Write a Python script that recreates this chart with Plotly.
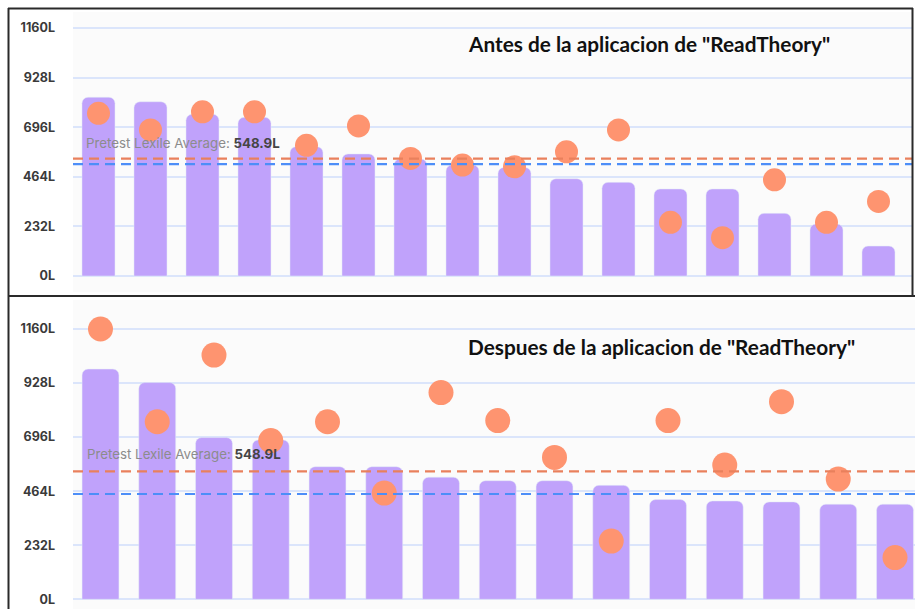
import plotly.graph_objects as go

# ---------------- data ----------------
tick_vals = [0, 232, 464, 696, 928, 1160]
tick_text = ["0L", "232L", "464L", "696L", "928L", "1160L"]

before_bars = [836, 815, 756, 742, 605, 571, 547, 519, 508, 455, 438, 407, 407, 293, 243, 140]
before_dots = [761, 683, 768, 768, 611, 702, 550, 519, 511, 581, 683, 251, 179, 450, 251, 349]
before_avg_orange = 548.9
before_avg_blue = 523

after_bars = [988, 930, 694, 684, 569, 569, 524, 509, 509, 489, 428, 422, 418, 408, 408]
after_dots = [1160, 762, 1048, 681, 762, 456, 887, 767, 609, 250, 767, 576, 848, 516, 179]
after_avg_orange = 548.9
after_avg_blue = 452

title_before = 'Antes de la aplicacion de "ReadTheory"'
title_after = 'Despues de la aplicacion de "ReadTheory"'
avg_label = "<span style='color:#8c8c8c'>Pretest Lexile Average:</span> <b><span style='color:#454545'>548.9L</span></b>"

# ---------------- layout geometry ----------------
W, H = 915, 609
BAR_COLOR = "#c0a2fb"
DOT_COLOR = "#fe9470"
ORANGE = "#e9805c"
BLUE = "#4d8ef8"
GRID = "#dbe5fb"

fig = go.Figure()

# top panel
fig.add_trace(go.Bar(x=list(range(len(before_bars))), y=before_bars, marker=dict(color=BAR_COLOR, cornerradius=6),
                     width=0.635, xaxis="x", yaxis="y", hoverinfo="y"))
fig.add_trace(go.Scatter(x=list(range(len(before_dots))), y=before_dots, mode="markers",
                         marker=dict(color=DOT_COLOR, size=23), xaxis="x", yaxis="y"))
# bottom panel
fig.add_trace(go.Bar(x=list(range(len(after_bars))), y=after_bars, marker=dict(color=BAR_COLOR, cornerradius=6),
                     width=0.65, xaxis="x2", yaxis="y2", hoverinfo="y"))
fig.add_trace(go.Scatter(x=list(range(len(after_dots))), y=after_dots, mode="markers",
                         marker=dict(color=DOT_COLOR, size=25), xaxis="x2", yaxis="y2"))

# pixel -> axis mapping helpers
def yrange(px_zero, px_per_unit, top_px, bot_px):
    return [(px_zero - bot_px) / px_per_unit, (px_zero - top_px) / px_per_unit]

top_px, bot_px = 12, 292
y1 = yrange(276, 49.6 / 232, top_px, bot_px)
top2_px, bot2_px = 300, 609
y2 = yrange(599.3, 54.06 / 232, top2_px, bot2_px)

x1 = [(73 - 98.5) / 52, (912 - 98.5) / 52]
x2 = [(73 - 100.5) / 56.75, (915 - 100.5) / 56.75]

yaxis_common = dict(tickvals=tick_vals, ticktext=tick_text, showgrid=True, gridcolor=GRID, gridwidth=1.5,
                    zeroline=False, showline=False, ticks="", ticklabelstandoff=17,
                    tickfont=dict(family="Inter", size=12.5, color="#3a3a3a", weight="bold"))
xaxis_common = dict(showgrid=False, zeroline=False, showticklabels=False, ticks="", showline=False)

fig.update_layout(
    width=W, height=H, margin=dict(l=0, r=0, t=0, b=0),
    paper_bgcolor="white", plot_bgcolor="#fbfbfb", showlegend=False,
    xaxis=dict(domain=[73 / W, 912 / W], range=x1, anchor="y", **xaxis_common),
    yaxis=dict(domain=[(H - bot_px) / H, (H - top_px) / H], range=y1, anchor="x", **yaxis_common),
    xaxis2=dict(domain=[73 / W, 1.0], range=x2, anchor="y2", **xaxis_common),
    yaxis2=dict(domain=[0, (H - top2_px) / H], range=y2, anchor="x2", **yaxis_common),
)

# average lines
for xa, ya, val, col in [("x", "y", before_avg_orange, ORANGE), ("x", "y", before_avg_blue, BLUE),
                         ("x2", "y2", after_avg_orange, ORANGE), ("x2", "y2", after_avg_blue, BLUE)]:
    fig.add_shape(type="line", xref=f"{xa} domain", yref=ya, x0=0, x1=1, y0=val, y1=val,
                  line=dict(color=col, width=2.2, dash="10px,6px"), layer="above")

# labels
fig.add_annotation(text=avg_label, xref="x domain", yref="y", x=11 / 839, y=before_avg_orange + 75,
                   xanchor="left", yanchor="middle", showarrow=False,
                   font=dict(family="Inter", size=13.3, color="#8c8c8c"))
fig.add_annotation(text=avg_label, xref="x2 domain", yref="y2", x=12 / 842, y=after_avg_orange + 74,
                   xanchor="left", yanchor="middle", showarrow=False,
                   font=dict(family="Inter", size=13.3, color="#8c8c8c"))
fig.add_annotation(text=f"<b>{title_before}</b>", xref="paper", yref="paper", x=466 / W, y=(H - 43) / H,
                   xanchor="left", yanchor="middle", showarrow=False,
                   font=dict(family="Lato", size=20.8, color="#111111"))
fig.add_annotation(text=f"<b>{title_after}</b>", xref="paper", yref="paper", x=466 / W, y=(H - 346) / H,
                   xanchor="left", yanchor="middle", showarrow=False,
                   font=dict(family="Lato", size=20.8, color="#111111"))

# frame lines (screenshot borders)
border = dict(color="#2a2a2a", width=2)
fig.add_shape(type="line", xref="paper", yref="paper", x0=8.5 / W, x1=8.5 / W, y0=0, y1=(H - 8) / H, line=border, layer="above")
fig.add_shape(type="line", xref="paper", yref="paper", x0=8 / W, x1=913 / W, y0=(H - 8.5) / H, y1=(H - 8.5) / H, line=border, layer="above")
fig.add_shape(type="line", xref="paper", yref="paper", x0=912.5 / W, x1=912.5 / W, y0=(H - 296) / H, y1=(H - 8) / H, line=border, layer="above")
fig.add_shape(type="line", xref="paper", yref="paper", x0=8 / W, x1=1, y0=(H - 296) / H, y1=(H - 296) / H, line=border, layer="above")

fig.write_html("out.html", config={"displayModeBar": False},
               post_script="document.body.style.margin='0';document.body.style.overflow='hidden';")
